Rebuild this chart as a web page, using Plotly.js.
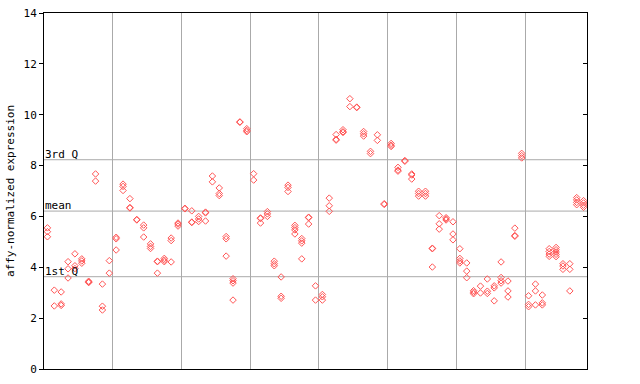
<!DOCTYPE html>
<html>
<head>
<meta charset="utf-8">
<script src="https://cdn.plot.ly/plotly-3.0.1.min.js"></script>
<style>html,body{margin:0;padding:0;background:#fff;}#chart{width:640px;height:384px;}</style>
</head>
<body>
<div id="chart"></div>
<script>
// replicate values per sample (sample index = position in list)
const sampleValues = [
  [5.55, 5.4, 5.2], [3.1, 2.48], [3.03, 2.56, 2.5], [4.22, 3.94, 3.58], [4.53, 4.06, 3.95],
  [4.33, 4.25, 4.16], [3.45, 3.42, 3.4], [7.67, 7.39], [3.34, 2.47, 2.32], [4.26, 3.77],
  [5.18, 5.12, 4.68], [7.27, 7.18, 7.02], [6.7, 6.35, 6.33], [5.88, 5.86], [5.66, 5.55, 5.19],
  [4.92, 4.82, 4.74], [4.24, 4.22, 3.77], [4.35, 4.28, 4.22], [5.15, 5.05, 4.21], [5.74, 5.7, 5.62],
  [6.32, 6.3], [6.22, 5.78, 5.76], [6.0, 5.9, 5.8], [6.17, 6.14, 5.82], [7.59, 7.36],
  [7.12, 6.9, 6.82], [5.21, 5.12, 4.44], [3.55, 3.47, 3.38, 2.71], [9.72, 9.7], [9.45, 9.38, 9.33],
  [7.68, 7.43], [5.94, 5.92, 5.74], [6.19, 6.1, 6.0], [4.24, 4.14, 4.06], [3.62, 2.86, 2.78],
  [7.23, 7.14, 6.98], [5.65, 5.56, 5.47, 5.31], [5.13, 5.04, 4.95, 4.33], [5.97, 5.95, 5.7], [3.27, 2.71],
  [2.93, 2.84, 2.71], [6.72, 6.42, 6.2], [9.22, 9.03, 9.0], [9.41, 9.33, 9.3], [10.63, 10.32],
  [10.3, 10.28], [9.34, 9.25, 9.16], [8.56, 8.47], [9.21, 8.99], [6.5, 6.47],
  [8.87, 8.8, 8.75], [7.93, 7.82, 7.78], [8.2, 8.17], [7.67, 7.63, 7.47], [6.99, 6.9, 6.8],
  [6.99, 6.9, 6.8], [4.75, 4.73, 4.01], [6.03, 5.71, 5.5], [5.95, 5.9, 5.86], [5.79, 5.31, 5.08],
  [4.73, 4.35, 4.25, 4.17], [4.17, 3.85, 3.59], [3.08, 3.02, 2.96], [3.26, 2.99], [3.54, 3.06, 2.97],
  [3.27, 3.19, 2.68], [4.21, 3.6, 3.47, 3.38], [3.46, 3.07, 2.83], [5.54, 5.25, 5.22], [8.48, 8.39, 8.3],
  [2.88, 2.54, 2.45], [3.34, 3.07, 2.52], [2.91, 2.6, 2.52], [4.73, 4.62, 4.52, 4.43], [4.78, 4.69, 4.6, 4.51, 4.42],
  [4.14, 4.05, 3.92], [4.14, 3.92, 3.07], [6.74, 6.65, 6.55, 6.46], [6.62, 6.53, 6.44, 6.36]
];
const q3Value = 8.23;
const meanValue = 6.21;
const q1Value = 3.63;
const refLabels = ["3rd Q", "mean", "1st Q"];
const yTicks = [0, 2, 4, 6, 8, 10, 12, 14];
const yTitle = "affy-normalized expression";

const xs = [], ys = [];
sampleValues.forEach((vals, i) => vals.forEach(v => { xs.push(i); ys.push(v); }));
const nSamples = sampleValues.length;

const font = {family: "DejaVu Sans Mono, monospace", size: 11, color: "#000"};
const refVals = [q3Value, meanValue, q1Value];

const traces = [
  {
    x: xs, y: ys, type: "scatter", mode: "markers",
    marker: {symbol: "diamond-open", size: 5, color: "#ff5555", line: {width: 1, color: "#ff5555"}},
    hoverinfo: "skip", showlegend: false
  },
  {x: [0], y: [0], yaxis: "y2", type: "scatter", mode: "markers", marker: {opacity: 0}, hoverinfo: "skip", showlegend: false}
];

const layout = {
  width: 640, height: 384,
  margin: {l: 44, r: 53, t: 13, b: 15, pad: 0},
  paper_bgcolor: "#fff", plot_bgcolor: "#fff",
  font: font,
  showlegend: false,
  xaxis: {
    range: [-0.5, nSamples - 0.5], tick0: 9.5, dtick: 10, tickmode: "linear",
    showticklabels: false, ticks: "", showgrid: true, gridcolor: "#aaaaaa", gridwidth: 1,
    zeroline: false, showline: true, linecolor: "#000", linewidth: 1, mirror: true, fixedrange: true
  },
  yaxis: {
    range: [0, 14], tickvals: yTicks, ticktext: yTicks.map(String),
    ticks: "outside", ticklen: 4, tickcolor: "#000", tickfont: font,
    showgrid: false, zeroline: false, showline: true, linecolor: "#000", linewidth: 1, mirror: true,
    title: {text: yTitle, font: font, standoff: 6}, fixedrange: true
  },
  yaxis2: {
    overlaying: "y", side: "right", range: [0, 14], tickvals: yTicks,
    ticks: "inside", ticklen: 4, tickcolor: "#000", showticklabels: false,
    showgrid: false, zeroline: false, showline: false, fixedrange: true
  },
  shapes: refVals.map(v => ({
    type: "line", xref: "paper", x0: 0, x1: 1, yref: "y", y0: v, y1: v,
    line: {color: "#aaaaaa", width: 1}, layer: "below"
  })),
  annotations: refVals.map((v, i) => ({
    xref: "paper", x: 0, xanchor: "left", yref: "y", y: v, yanchor: "bottom",
    text: refLabels[i], showarrow: false, font: font, xshift: -1, yshift: -3
  }))
};

Plotly.newPlot("chart", traces, layout, {displayModeBar: false, staticPlot: true});
</script>
</body>
</html>
